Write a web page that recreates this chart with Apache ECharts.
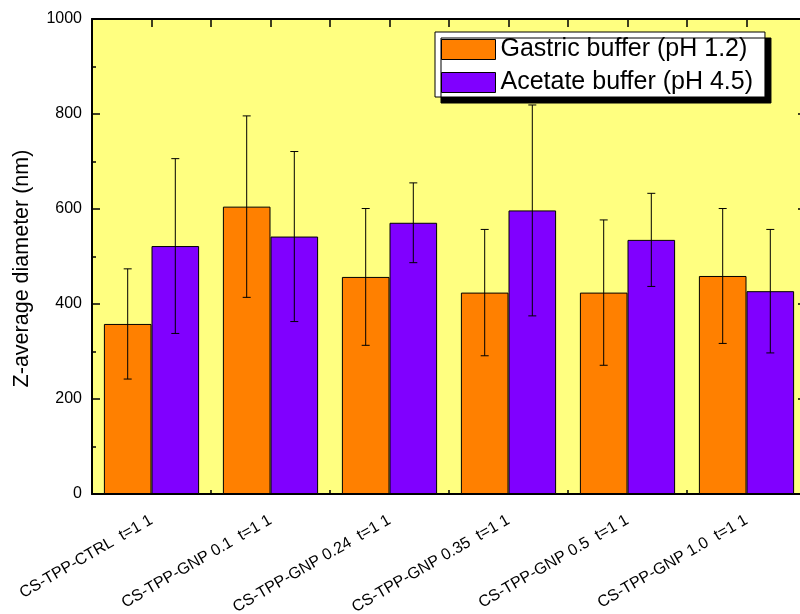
<!DOCTYPE html>
<html>
<head>
<meta charset="utf-8">
<script src="https://cdn.jsdelivr.net/npm/echarts@6/dist/echarts.min.js"></script>
<style>
html,body{margin:0;padding:0;background:#fff;}
#chart{width:800px;height:614px;}
</style>
</head>
<body>
<div id="chart"></div>
<script>
var categories = ['CS-TPP-CTRL  t=1 1', 'CS-TPP-GNP 0.1  t=1 1', 'CS-TPP-GNP 0.24  t=1 1', 'CS-TPP-GNP 0.35  t=1 1', 'CS-TPP-GNP 0.5  t=1 1', 'CS-TPP-GNP 1.0  t=1 1'];
var seriesNames = ['Gastric buffer (pH 1.2)', 'Acetate buffer (pH 4.5)'];
var gastricMean = [358, 605, 457, 424, 424, 459];
var gastricSD = [116, 191, 144, 133, 153, 142];
var acetateMean = [522, 542, 571, 597, 535, 427];
var acetateSD = [184, 179, 84, 222, 98, 130];
var yTicks = [0, 200, 400, 600, 800, 1000];

var FONT = 'Liberation Sans, Arial, sans-serif';
var colors = ['#FF8000', '#8000FF'];

function errData(mean, sd) {
  return mean.map(function (m, i) { return [i, m, sd[i]]; });
}
function errRender(sign) {
  return function (params, api) {
    var i = api.value(0), m = api.value(1), e = api.value(2);
    var catW = api.size([1, 0])[0];
    var bw = catW * 0.8 / 2;
    var off = sign * bw / 2;
    var top = api.coord([i, m + e]);
    var bot = api.coord([i, m - e]);
    var x = top[0] + off;
    var cap = 4;
    var st = { stroke: '#000', lineWidth: 1 };
    return {
      type: 'group',
      children: [
        { type: 'line', shape: { x1: x, y1: top[1], x2: x, y2: bot[1] }, style: st },
        { type: 'line', shape: { x1: x - cap, y1: top[1], x2: x + cap, y2: top[1] }, style: st },
        { type: 'line', shape: { x1: x - cap, y1: bot[1], x2: x + cap, y2: bot[1] }, style: st }
      ]
    };
  };
}

var chart = echarts.init(document.getElementById('chart'), null, { renderer: 'canvas' });
chart.setOption({
  animation: false,
  backgroundColor: '#fff',
  textStyle: { fontFamily: FONT },
  grid: {
    left: 92, top: 19, width: 714, bottom: 120,
    outerBoundsMode: 'none',
    containLabel: false,
    show: true, backgroundColor: '#FFFF80', borderWidth: 0
  },
  legend: {
    data: seriesNames,
    orient: 'vertical',
    left: 435, top: 32,
    padding: [5, 12, 2, 6],
    itemGap: 8,
    itemWidth: 54, itemHeight: 20,
    icon: 'rect',
    backgroundColor: '#fff',
    borderColor: '#000', borderWidth: 1,
    shadowColor: '#000', shadowBlur: 0, shadowOffsetX: 6, shadowOffsetY: 6,
    itemStyle: { borderColor: '#000', borderWidth: 1 },
    textStyle: { fontFamily: FONT, fontSize: 25, color: '#000' }
  },
  xAxis: [{
    type: 'category',
    data: categories,
    position: 'bottom',
    axisLine: { show: true, lineStyle: { color: '#000', width: 2 } },
    axisTick: { show: true, inside: true, length: 4, lineStyle: { color: '#000', width: 1.5 } },
    axisLabel: { interval: 0, rotate: 30, margin: 25, fontFamily: FONT, fontSize: 16, color: '#000' },
    splitLine: { show: false }
  }, {
    type: 'value',
    position: 'top',
    min: 0, max: 6, interval: 0.5,
    axisLine: { show: true, onZero: false, lineStyle: { color: '#000', width: 2 } },
    axisTick: { show: true, inside: true, length: 8, lineStyle: { color: '#000', width: 1.5 } },
    axisLabel: { show: false },
    splitLine: { show: false }
  }],
  yAxis: [{
    type: 'value',
    min: 0, max: 1000, interval: 200,
    name: 'Z-average diameter (nm)',
    nameLocation: 'middle',
    nameGap: 59,
    nameTextStyle: { fontFamily: FONT, fontSize: 21.5, color: '#000', padding: [0, 24, 0, 0] },
    axisLine: { show: true, lineStyle: { color: '#000', width: 2 } },
    axisTick: { show: true, inside: true, length: 8, lineStyle: { color: '#000', width: 1.5 } },
    minorTick: { show: true, splitNumber: 2, length: 4, lineStyle: { color: '#000', width: 1.5 } },
    axisLabel: {
      margin: 10, fontFamily: FONT, fontSize: 16, color: '#000',
      formatter: function (v) { return yTicks.indexOf(v) >= 0 ? String(v) : ''; }
    },
    splitLine: { show: false }
  }, {
    type: 'value',
    position: 'right',
    min: 0, max: 1000, interval: 200,
    axisLine: { show: true, lineStyle: { color: '#000', width: 2 } },
    axisTick: { show: true, inside: true, length: 8, lineStyle: { color: '#000', width: 1.5 } },
    minorTick: { show: true, splitNumber: 2, length: 4, lineStyle: { color: '#000', width: 1.5 } },
    axisLabel: { show: false },
    splitLine: { show: false }
  }],
  series: [{
    name: seriesNames[0],
    type: 'bar',
    data: gastricMean,
    barGap: '0%',
    barCategoryGap: '20%',
    itemStyle: { color: colors[0], borderColor: '#000', borderWidth: 1 },
    z: 3
  }, {
    name: seriesNames[1],
    type: 'bar',
    data: acetateMean,
    barGap: '0%',
    barCategoryGap: '20%',
    itemStyle: { color: colors[1], borderColor: '#000', borderWidth: 1 },
    z: 3
  }, {
    name: 'errGastric',
    type: 'custom',
    data: errData(gastricMean, gastricSD),
    renderItem: errRender(-1),
    encode: { x: 0, y: 1 },
    z: 5, silent: true
  }, {
    name: 'errAcetate',
    type: 'custom',
    data: errData(acetateMean, acetateSD),
    renderItem: errRender(1),
    encode: { x: 0, y: 1 },
    z: 5, silent: true
  }]
});
</script>
</body>
</html>
